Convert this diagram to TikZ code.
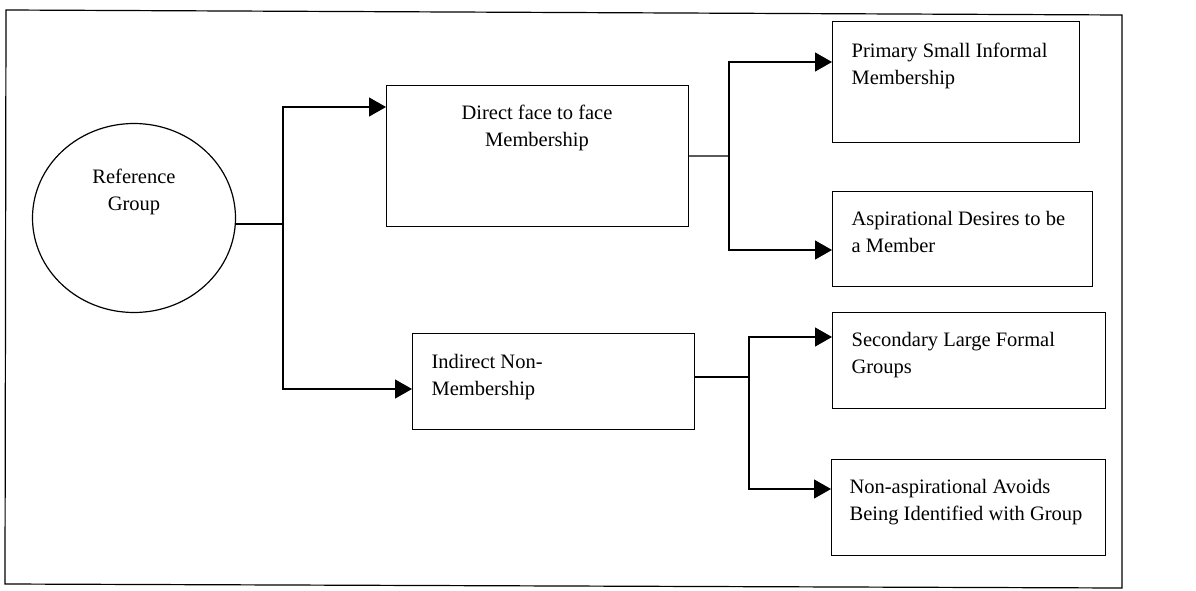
\documentclass[tikz,border=0pt]{standalone}
\usepackage{fontspec}
\setmainfont{Liberation Serif}
\usetikzlibrary{arrows.meta,shapes.geometric}
\begin{document}
\begin{tikzpicture}[x=1pt,y=-1pt,line width=1.2pt,
  box/.style={draw, rectangle, inner sep=0pt, anchor=north west},
  lbl/.style={font=\fontsize{20.5}{27}\selectfont, inner sep=0pt, align=left, anchor=north west},
  clbl/.style={font=\fontsize{20.5}{27}\selectfont, inner sep=0pt, align=center, anchor=north},
  arr/.style={-{Triangle[length=17pt,width=19pt]}},
]
\useasboundingbox (0,0) rectangle (1196,591);
\fill[white] (0,0) rectangle (1196,591);
% outer frame
\draw (6,10) -- (1122,15) -- (1122,588) -- (5,584) -- cycle;

% shapes
\node[draw, ellipse, inner sep=0pt, minimum width=203pt, minimum height=189pt] (ref) at (134,218) {};
\node[box, minimum width=302pt, minimum height=141pt] (direct) at (386,85) {};
\node[box, minimum width=282pt, minimum height=96pt] (indirect) at (412,333) {};
\node[box, minimum width=247pt, minimum height=121pt] (primary) at (832,21) {};
\node[box, minimum width=260pt, minimum height=95pt] (aspir) at (832,191) {};
\node[box, minimum width=273pt, minimum height=96pt] (second) at (832,312) {};
\node[box, minimum width=274pt, minimum height=96pt] (nonasp) at (831,459) {};

% texts
\node[clbl] (tref) at (134,168) {Reference\\Group};
\node[clbl] (tdirect) at (537,104) {Direct face to face\\Membership};
\node[lbl] (tprimary) at (851,42) {Primary Small Informal\\Membership};
\node[lbl] (taspir) at (851,211) {Aspirational Desires to be\\a Member};
\node[lbl] (tindirect) at (431,354) {Indirect Non-\\Membership};
\node[lbl] (tsecond) at (851,332) {Secondary Large Formal\\Groups};
\node[lbl] (tnonasp) at (849,479) {Non-aspirational Avoids\\Being Identified with Group};

% connectors
\coordinate (j1) at (283,224);
\coordinate (j2) at (729,156);
\coordinate (j3) at (749,377);
\draw (ref.east |- j1) -- (j1);
\draw[arr] (j1) |- ([yshift=-22pt]direct.north west);
\draw[arr] (j1) |- ([yshift=-56pt]indirect.north west);
\draw (direct.east) -- (j2);
\draw[arr] (j2) |- ([yshift=-41pt]primary.north west);
\draw[arr] (j2) |- ([yshift=-59pt]aspir.north west);
\draw (indirect.east |- j3) -- (j3);
\draw[arr] (j3) |- ([yshift=-25pt]second.north west);
\draw[arr] (j3) |- ([yshift=-30pt]nonasp.north west);
\end{tikzpicture}
\end{document}
